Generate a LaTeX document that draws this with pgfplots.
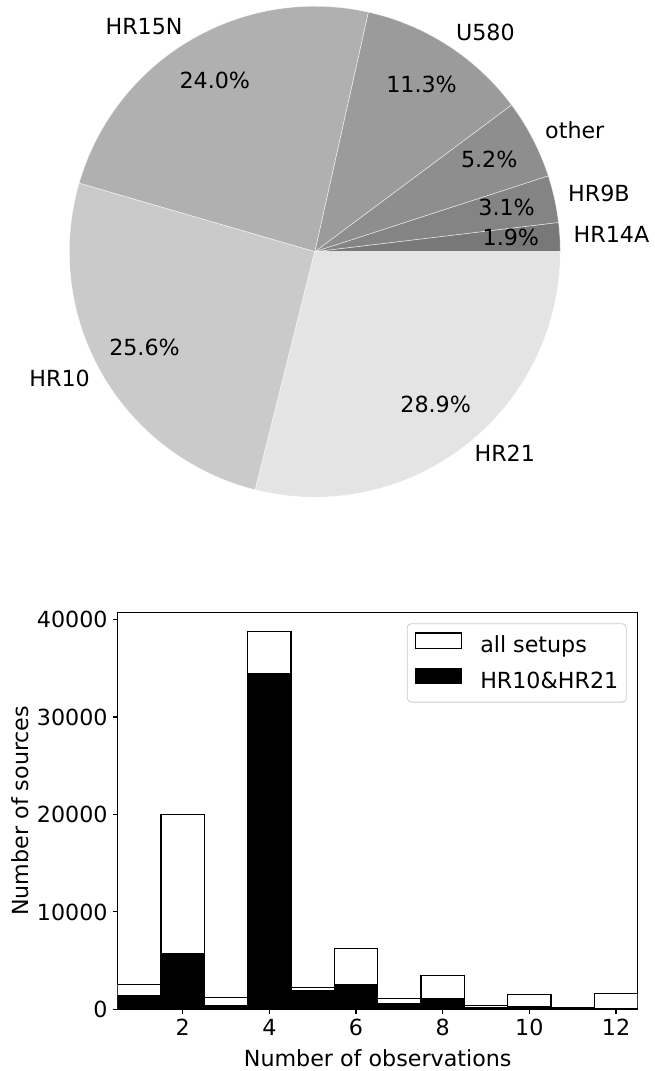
\documentclass[border=0pt]{standalone}
\usepackage{fontspec}
\setmainfont{DejaVu Sans}
\usepackage{pgfplots}
\pgfplotsset{compat=1.18}
\definecolor{cHRa}{HTML}{E4E4E4}
\definecolor{cHRb}{HTML}{CACACA}
\definecolor{cHRc}{HTML}{B0B0B0}
\definecolor{cHRd}{HTML}{9B9B9B}
\definecolor{cHRe}{HTML}{8E8E8E}
\definecolor{cHRf}{HTML}{848484}
\definecolor{cHRg}{HTML}{787878}
\definecolor{legframe}{HTML}{CCCCCC}
\begin{document}
\fontsize{11.1}{13.3}\selectfont
\begin{tikzpicture}[
  lab/.style={inner sep=0pt, text height=0.76em, text depth=0.24em},
]
\path[use as bounding box] (0,0) rectangle (327pt,535.5pt);
% ---------------- pie -----------------
\begin{axis}[
  at={(157.4pt,409.65pt)}, anchor=center,
  scale only axis, width=245.5pt, height=245.5pt,
  xmin=-1, xmax=1, ymin=-1, ymax=1,
  hide axis, clip=false,
  slice/.style={draw=white, draw opacity=0.6, line width=0.3pt, samples=40, variable=\t},
]
% slice boundaries in degrees: cumulative share x 3.6
% HR14A 1.9, HR9B 3.1, other 5.2, U580 11.3, HR15N 24.0, HR10 25.6, HR21 28.9
\addplot[slice, fill=cHRg, domain=0:6.84]      ({cos(t)},{sin(t)}) -- (axis cs:0,0) -- cycle;
\addplot[slice, fill=cHRf, domain=6.84:18]     ({cos(t)},{sin(t)}) -- (axis cs:0,0) -- cycle;
\addplot[slice, fill=cHRe, domain=18:36.72]    ({cos(t)},{sin(t)}) -- (axis cs:0,0) -- cycle;
\addplot[slice, fill=cHRd, domain=36.72:77.4]  ({cos(t)},{sin(t)}) -- (axis cs:0,0) -- cycle;
\addplot[slice, fill=cHRc, domain=77.4:163.8]  ({cos(t)},{sin(t)}) -- (axis cs:0,0) -- cycle;
\addplot[slice, fill=cHRb, domain=163.8:255.96]({cos(t)},{sin(t)}) -- (axis cs:0,0) -- cycle;
\addplot[slice, fill=cHRa, domain=255.96:360]  ({cos(t)},{sin(t)}) -- (axis cs:0,0) -- cycle;
% percentages at 0.8 R
\node[lab] at (axis cs:{0.8*cos(3.42)},{0.8*sin(3.42)}) {1.9\%};
\node[lab] at (axis cs:{0.8*cos(12.42)},{0.8*sin(12.42)}) {3.1\%};
\node[lab] at (axis cs:{0.8*cos(27.36)},{0.8*sin(27.36)}) {5.2\%};
\node[lab] at (axis cs:{0.8*cos(57.06)},{0.8*sin(57.06)}) {11.3\%};
\node[lab] at (axis cs:{0.8*cos(120.6)},{0.8*sin(120.6)}) {24.0\%};
\node[lab] at (axis cs:{0.8*cos(209.88)},{0.8*sin(209.88)}) {25.6\%};
\node[lab] at (axis cs:{0.8*cos(307.98)},{0.8*sin(307.98)}) {28.9\%};
% labels
\node[lab, anchor=west] at (axis cs:{1.055*cos(3.42)},{1.055*sin(3.42)}) {HR14A};
\node[lab, anchor=west] at (axis cs:{1.055*cos(12.42)},{1.055*sin(12.42)}) {HR9B};
\node[lab, anchor=west] at (axis cs:{1.055*cos(27.36)},{1.055*sin(27.36)}) {other};
\node[lab, anchor=west] at (axis cs:{1.055*cos(57.06)},{1.055*sin(57.06)}) {U580};
\node[lab, anchor=east] at (axis cs:{1.055*cos(120.6)},{1.055*sin(120.6)}) {HR15N};
\node[lab, anchor=east] at (axis cs:{1.055*cos(209.88)},{1.055*sin(209.88)}) {HR10};
\node[lab, anchor=west] at (axis cs:{1.055*cos(307.98)},{1.055*sin(307.98)}) {HR21};
\end{axis}
% ---------------- histogram -----------------
\begin{axis}[
  at={(58.85pt,30.85pt)}, anchor=south west,
  scale only axis, width=260pt, height=198.5pt,
  xmin=0.5, xmax=12.5, ymin=0, ymax=40740,
  xtick={2,4,6,8,10,12},
  ytick={0,10000,20000,30000,40000},
  scaled y ticks=false,
  /pgf/number format/1000 sep={},
  /pgf/number format/assume math mode=true,
  tick align=outside, major tick length=2.4pt,
  tick style={line width=0.55pt, black},
  axis line style={line width=0.55pt},
  xtick pos=bottom, ytick pos=left,
  xticklabel style={anchor=north, inner sep=0pt, text depth=0pt, yshift=-2.45pt},
  yticklabel style={anchor=east, inner sep=0pt, text depth=0pt, xshift=-2.45pt},
  xlabel={Number of observations},
  ylabel={Number of sources},
  every axis x label/.style={at={(axis description cs:0.5,0)}, anchor=base, yshift=-28.35pt},
  every axis y label/.style={at={(axis description cs:0,0.5)}, xshift=-48.85pt, anchor=center, rotate=90},
  legend cell align=left,
  legend style={at={(1,1)}, anchor=north east, xshift=-5.5pt, yshift=-5.5pt,
    draw=legframe, rounded corners=2pt, fill=white, fill opacity=0.8, text opacity=1,
    inner xsep=4pt, inner ysep=4.3pt, row sep=4.7pt,
    /tikz/every odd column/.append style={column sep=8.9pt},
    nodes={inner xsep=0pt, inner ysep=0pt, text height=0.76em, text depth=0.24em}},
  legend image code/.code={\draw[#1, sharp corners, fill opacity=1, draw opacity=1] (0pt,-0.7pt) rectangle (23pt,7.1pt);},
  hist/.style={ybar, bar width=1, bar shift=0pt, line width=0.6pt, draw=black},
]
\addplot[hist, fill=white] coordinates {
 (1,2580) (2,20000) (3,1200) (4,38800) (5,2250) (6,6250)
 (7,1130) (8,3500) (9,380) (10,1510) (11,210) (12,1620)};
\addlegendentry{all setups}
\addplot[hist, fill=black] coordinates {
 (1,1380) (2,5700) (3,380) (4,34450) (5,1890) (6,2580)
 (7,620) (8,1130) (9,210) (10,280) (11,140) (12,100)};
\addlegendentry{HR10\&HR21}
\end{axis}
\end{tikzpicture}
\end{document}
